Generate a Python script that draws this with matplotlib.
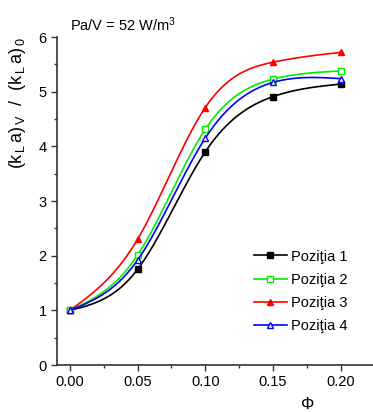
import numpy as np
import matplotlib
matplotlib.use("Agg")
import matplotlib.pyplot as plt
from matplotlib.ticker import MultipleLocator

plt.rcParams['font.family'] = ['Liberation Sans', 'DejaVu Sans']
plt.rcParams['mathtext.fontset'] = 'custom'
plt.rcParams['mathtext.rm'] = 'Liberation Sans'
plt.rcParams['mathtext.it'] = 'Liberation Sans'

phi = np.array([0.00, 0.05, 0.10, 0.15, 0.20])
poz1 = np.array([1.00, 1.75, 3.90, 4.91, 5.14])
poz2 = np.array([1.00, 2.01, 4.31, 5.23, 5.38])
poz3 = np.array([1.00, 2.30, 4.71, 5.54, 5.72])
poz4 = np.array([1.00, 1.92, 4.15, 5.17, 5.24])

labels = ['Poziţia 1', 'Poziţia 2', 'Poziţia 3', 'Poziţia 4']
colors = ['black', '#00ee00', 'red', 'blue']
markers = ['s', 's', '^', '^']
fills = ['black', 'white', 'red', 'white']


def natural_spline(x, y, n=200):
    # natural cubic spline through the points, for a smooth connecting line
    k = len(x)
    h = np.diff(x)
    A = np.zeros((k, k))
    b = np.zeros(k)
    A[0, 0] = A[-1, -1] = 1
    for i in range(1, k - 1):
        A[i, i - 1] = h[i - 1]
        A[i, i] = 2 * (h[i - 1] + h[i])
        A[i, i + 1] = h[i]
        b[i] = 3 * ((y[i + 1] - y[i]) / h[i] - (y[i] - y[i - 1]) / h[i - 1])
    c = np.linalg.solve(A, b)
    xs = np.linspace(x[0], x[-1], n)
    idx = np.clip(np.searchsorted(x, xs) - 1, 0, k - 2)
    dx = xs - x[idx]
    bb = (y[idx + 1] - y[idx]) / h[idx] - h[idx] * (2 * c[idx] + c[idx + 1]) / 3
    d = (c[idx + 1] - c[idx]) / (3 * h[idx])
    ys = y[idx] + bb * dx + c[idx] * dx ** 2 + d * dx ** 3
    return xs, ys


fig = plt.figure(figsize=(3.73, 4.12), dpi=100)
ax = fig.add_axes([0.153, 0.114, 0.847, 0.796])

for y, lab, col, mk, fc in zip([poz1, poz2, poz3, poz4], labels, colors, markers, fills):
    xs, ys = natural_spline(phi, y)
    ax.plot(xs, ys, color=col, lw=1.2)
    ax.plot(phi, y, ls='none', marker=mk, ms=5, mfc=fc, mec=col, mew=1.0)
    ax.plot([], [], color=col, lw=1.2, marker=mk, ms=5, mfc=fc, mec=col, mew=1.0, label=lab)

ax.set_xlim(-0.0095, 0.224)
ax.set_ylim(0, 6)
ax.xaxis.set_major_locator(MultipleLocator(0.05))
ax.xaxis.set_minor_locator(MultipleLocator(0.025))
ax.yaxis.set_major_locator(MultipleLocator(1))
ax.yaxis.set_minor_locator(MultipleLocator(0.5))
ax.xaxis.set_major_formatter(plt.FuncFormatter(lambda v, p: f"{v:.2f}"))
ax.tick_params(which='major', direction='out', length=4, width=1, labelsize=10.5, color='#333333')
ax.tick_params(which='minor', direction='out', length=2.5, width=1, color='#333333')
ax.spines['top'].set_visible(False)
ax.spines['right'].set_visible(False)
for s in ['left', 'bottom']:
    ax.spines[s].set_linewidth(1.2)
    ax.spines[s].set_color('#333333')

ax.legend(loc='upper left', bbox_to_anchor=(0.622, 0.352), frameon=False, fontsize=10.5,
          handlelength=2.3, handletextpad=0.25, labelspacing=0.62, borderpad=0, borderaxespad=0)

fig.text(0.187, 0.94, r'Pa/V = 52 W/m$^3$', fontsize=10.5, va='center')
fig.text(0.048, 0.91, r'$(\mathrm{k}_{\,\mathrm{L}}\,\mathrm{a})_{\,\mathrm{V}}$  /  $(\mathrm{k}_{\,\mathrm{L}}\,\mathrm{a})_{\,0}$',
         rotation=90, fontsize=13, va='top', ha='center')
fig.text(0.826, 0.0, 'Φ', fontsize=12, ha='center', va='bottom')

fig.savefig('out.png', dpi=100)
